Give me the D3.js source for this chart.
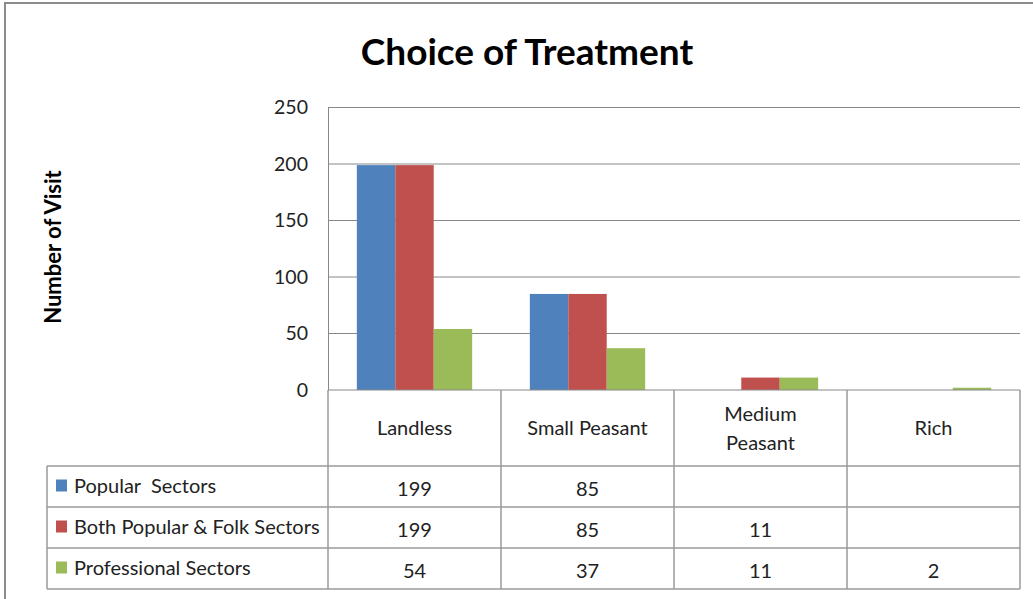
<!DOCTYPE html>
<html><head><meta charset="utf-8">
<script src="https://cdn.jsdelivr.net/npm/d3@7"></script>
<style>
body{margin:0;background:#fff;}
text{font-family:Lato,"Open Sans",sans-serif;fill:#222;white-space:pre;}
</style></head>
<body><svg id="c" width="1033" height="599"></svg>
<script>
const categories = ["Landless", "Small Peasant", "Medium Peasant", "Rich"];
const categoryLines = [["Landless"], ["Small Peasant"], ["Medium", "Peasant"], ["Rich"]];
const seriesNames = ["Popular  Sectors", "Both Popular & Folk Sectors", "Professional Sectors"];
const popularSectors = [199, 85, null, null];
const bothSectors = [199, 85, 11, null];
const professionalSectors = [54, 37, 11, 2];
const yTicks = [0, 50, 100, 150, 200, 250];
const colors = ["#4F81BD", "#C0504D", "#9BBB59"];
const seriesValues = [popularSectors, bothSectors, professionalSectors];

const svg = d3.select("#c");
const L = 328, R = 1020, T = 107.5, B = 390;
const x = d3.scaleBand().domain(categories).range([L, R]).paddingInner(0).paddingOuter(0);
const xs = d3.scaleBand().domain(d3.range(3)).range([0, x.bandwidth()]).paddingInner(0).paddingOuter(0.75);
const y = d3.scaleLinear().domain([0, 250]).range([B, T]);

// outer border
svg.append("rect").attr("x",5).attr("y",3).attr("width",1040).attr("height",610)
  .attr("fill","none").attr("stroke","#8c8c8c").attr("stroke-width",2);

// title
svg.append("text").attr("x",527).attr("y",65).attr("text-anchor","middle")
  .style("font-size","37px").style("font-weight","bold").style("fill","#000").text("Choice of Treatment");

// gridlines
svg.append("g").selectAll("line").data(yTicks.filter(d=>d>0)).join("line")
  .attr("x1",L).attr("x2",R).attr("y1",d=>y(d)).attr("y2",d=>y(d))
  .attr("stroke","#888").attr("stroke-width",1);

// y axis
const ya = svg.append("g").attr("transform",`translate(${L},0)`)
  .call(d3.axisLeft(y).tickValues(yTicks).tickSize(0).tickPadding(20));
ya.select(".domain").attr("stroke","#888");
ya.selectAll("text").style("font-size","19.5px").style("font-family","Lato,sans-serif").attr("fill","#222");

// y title
svg.append("text").attr("transform","translate(61,247) rotate(-90)").attr("text-anchor","middle")
  .style("font-size","22px").style("font-weight","bold").style("fill","#000").text("Number of Visit");

// bars
seriesValues.forEach((vals,si)=>{
  svg.append("g").selectAll("rect").data(categories.map((c,i)=>({c,v:vals[i]})).filter(d=>d.v!=null)).join("rect")
    .attr("x",d=>x(d.c)+xs(si)).attr("width",xs.bandwidth())
    .attr("y",d=>y(d.v)).attr("height",d=>y(0)-y(d.v)).attr("fill",colors[si]);
});

// baseline
svg.append("line").attr("x1",L).attr("x2",R).attr("y1",B).attr("y2",B).attr("stroke","#888");

// data table
const tc = "#9a9a9a";
const rowY = [466, 507, 548, 589];
const TL = 47;
const g = svg.append("g");
categories.concat(["_end"]).forEach((c,i)=>{
  const xx = i<categories.length ? x(c) : R;
  g.append("line").attr("x1",xx).attr("x2",xx).attr("y1",B).attr("y2",rowY[3]).attr("stroke",tc).attr("stroke-width",1.5);
});
g.append("line").attr("x1",TL).attr("x2",TL).attr("y1",rowY[0]).attr("y2",rowY[3]).attr("stroke",tc).attr("stroke-width",1.5);
rowY.forEach(yy=>g.append("line").attr("x1",TL).attr("x2",R).attr("y1",yy).attr("y2",yy).attr("stroke",tc).attr("stroke-width",1.5));

// header labels
categoryLines.forEach((lines,i)=>{
  const cx = x(categories[i]) + x.bandwidth()/2;
  const cy = (B + rowY[0])/2;
  const lh = 29;
  lines.forEach((t,j)=>{
    g.append("text").attr("x",cx).attr("y",cy + (j-(lines.length-1)/2)*lh).attr("dy","0.35em")
      .attr("text-anchor","middle").style("font-size","20px").text(t);
  });
});

// rows
seriesNames.forEach((name,si)=>{
  const cy = (rowY[si]+rowY[si+1])/2;
  g.append("rect").attr("x",56).attr("y",cy-7).attr("width",11).attr("height",12).attr("fill",colors[si]);
  g.append("text").attr("x",74).attr("y",cy-1).attr("dy","0.35em").style("font-size","20px").text(name);
  seriesValues[si].forEach((v,i)=>{
    if(v==null) return;
    g.append("text").attr("x",x(categories[i])+x.bandwidth()/2).attr("y",cy+2).attr("dy","0.35em")
      .attr("text-anchor","middle").style("font-size","20px").text(v);
  });
});
</script></body></html>
